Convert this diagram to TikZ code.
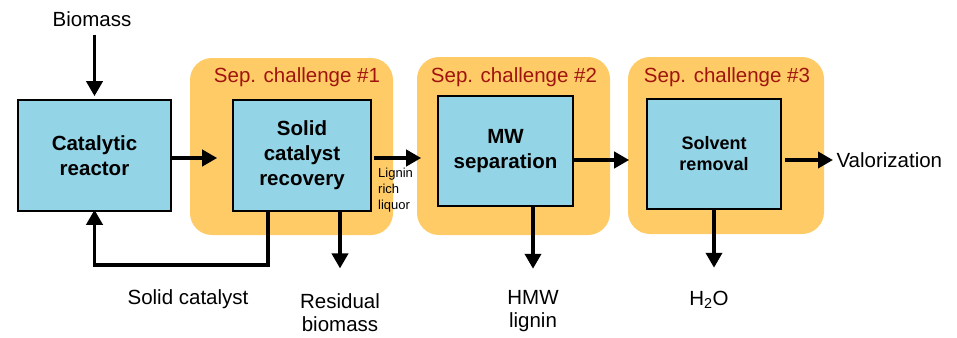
\documentclass[tikz,border=0pt]{standalone}
\usepackage{fontspec}
\setmainfont{Liberation Sans}
\usetikzlibrary{arrows.meta}
\definecolor{blubox}{HTML}{93D4E6}
\definecolor{orgsep}{HTML}{FECB66}
\definecolor{redsep}{HTML}{A0140F}

\begin{document}
\begin{tikzpicture}[x=1pt, y=-1pt,
  unit/.style={draw, line width=1.6pt, fill=blubox, align=center, inner sep=0pt,
    font=\fontsize{20.5}{25}\selectfont\bfseries},
  sepzone/.style={fill=orgsep, rounded corners=22pt, inner sep=0pt},
  seplabel/.style={text=redsep, font=\fontsize{20.5}{25}\selectfont},
  stream/.style={align=center, font=\fontsize{20.5}{23}\selectfont},
  flow/.style={line width=3.7pt, -{Triangle[length=15pt, width=16pt]}}]

\useasboundingbox (0,0) rectangle (957,337);

% separation challenges
\node[sepzone, minimum width=203pt, minimum height=177pt] (zone1) at (291.5,146.5) {};
\node[sepzone, minimum width=193pt, minimum height=178pt] (zone2) at (513.5,146) {};
\node[sepzone, minimum width=196pt, minimum height=177pt] (zone3) at (726,145.5) {};
\node[seplabel] (lbl1) at (297,77.5) {Sep. challenge \#1};
\node[seplabel] (lbl2) at (514,77.5) {Sep. challenge \#2};
\node[seplabel] (lbl3) at (727,77.5) {Sep. challenge \#3};

% units
\node[unit, minimum width=153pt, minimum height=111pt] (reactor) at (94.5,155.5) {Catalytic\\reactor};
\node[unit, minimum width=138pt, minimum height=111pt] (recovery) at (302,155.5) {Solid\\catalyst\\recovery};
\node[unit, minimum width=135pt, minimum height=110pt] (mwsep) at (505.5,151) {MW\\separation};
\node[unit, minimum width=134pt, minimum height=110pt, font=\fontsize{18}{21}\selectfont\bfseries] (solvrem) at (714,154) {Solvent\\removal};

% streams
\node[stream] (biomass) at (92,19.5) {Biomass};
\node[stream, anchor=west] (valor) at (833,160) {Valorization};
\node[stream] (solidcat) at (188,299) {Solid catalyst};
\node[stream] (residual) at (340,313) {Residual\\biomass};
\node[stream] (hmw) at (533,311) {HMW\\lignin};
\node[stream] (water) at (709,300) {H\textsubscript{2}O};
\node[font=\fontsize{13}{16}\selectfont, align=left, anchor=north west, inner sep=0pt] (liquor) at (378,168) {Lignin\\rich\\liquor};

% flows
\draw[flow, shorten <=4pt, shorten >=3pt] (biomass.south -| reactor.north) -- (reactor.north);
\draw[flow, shorten >=15pt] ([yshift=-2.5pt]reactor.east) -- ([yshift=-2.5pt]recovery.west);
\draw[flow, shorten <=2pt, shorten >=16pt] ([yshift=-2.5pt]recovery.east) -- ([yshift=-2.5pt]recovery.east -| mwsep.west);
\draw[flow, shorten >=17pt] ([yshift=-9pt]mwsep.east) -- ([yshift=-9pt]mwsep.east -| solvrem.west);
\draw[flow, shorten <=3pt] (solvrem.east |- valor.west) -- (valor.west);
\draw[flow, shorten >=-2pt] ([xshift=-34pt]recovery.south) -- ++(0,53) -| (reactor.south);
\draw[flow, shorten >=22pt] ([xshift=38pt]recovery.south) -- ([xshift=38pt]recovery.south |- residual.north);
\draw[flow, shorten >=18pt] ([xshift=27.5pt]mwsep.south) -- ([xshift=27.5pt]mwsep.south |- hmw.north);
\draw[flow, shorten >=20pt] (solvrem.south) -- (solvrem.south |- water.north);
\end{tikzpicture}
\end{document}
